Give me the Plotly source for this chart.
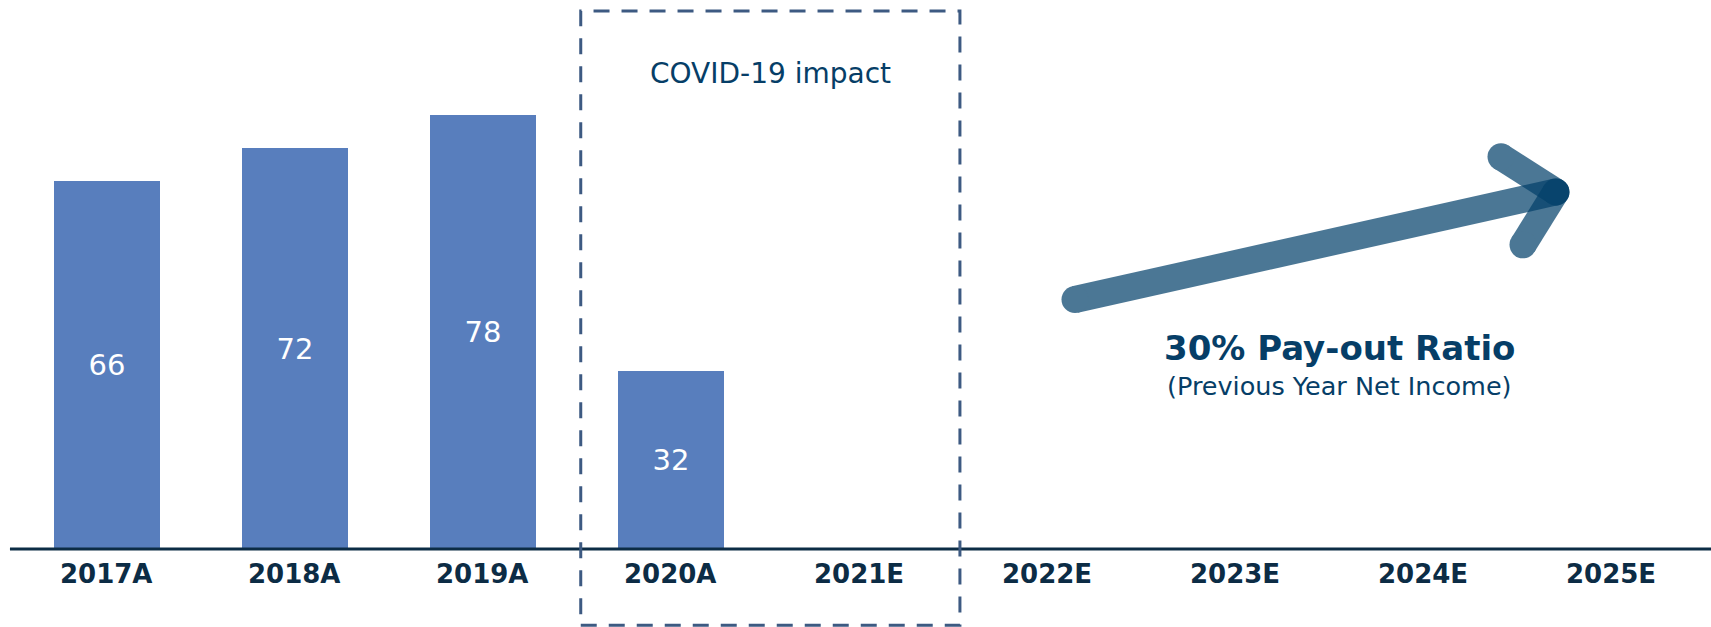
import plotly.graph_objects as go

# Dividend per year (actuals) and forecast years
categories = ["2017A", "2018A", "2019A", "2020A", "2021E", "2022E", "2023E", "2024E", "2025E"]
dividends = [66, 72, 78, 32, None, None, None, None, None]

covid_label = "COVID-19 impact"
policy_title = "30% Pay-out Ratio"
policy_note = "(Previous Year Net Income)"

BAR_BLUE = "#587ebd"
NAVY = "#0c2c45"
TEXT_BLUE = "#063e67"
ARROW_BLUE = "#03406a"
FONT = "DejaVu Sans"

pos = list(range(len(categories)))

fig = go.Figure()

fig.add_trace(go.Bar(
    x=pos,
    y=dividends,
    width=0.56,
    marker=dict(color=BAR_BLUE, line=dict(width=0)),
    text=[str(v) if v is not None else "" for v in dividends],
    textposition="inside",
    insidetextanchor="middle",
    textangle=0,
    constraintext="none",
    textfont=dict(color="white", size=29, family=FONT),
    hoverinfo="skip",
    showlegend=False,
))

# Trend arrow: shaft plus two head strokes, each semi-transparent so overlaps darken
arrow_parts = [
    ([5.149, 7.707], [44.8, 64.1]),
    ([7.415, 7.707], [70.4, 64.1]),
    ([7.532, 7.707], [54.6, 64.1]),
]
for xs, ys in arrow_parts:
    fig.add_trace(go.Scatter(
        x=xs, y=ys,
        mode="lines+markers",
        line=dict(color=ARROW_BLUE, width=27),
        marker=dict(color=ARROW_BLUE, size=27, line=dict(width=0)),
        opacity=0.71,
        hoverinfo="skip",
        showlegend=False,
    ))

# Baseline
fig.add_shape(type="line", x0=-0.516, x1=8.6, y0=0, y1=0,
              line=dict(color=NAVY, width=3), layer="above")

# Dashed frame around the COVID-affected years
fig.add_shape(type="rect", x0=2.52, x1=4.537, y0=-13.7, y1=96.6,
              line=dict(color="#3d5a82", width=3, dash="16px,12px"),
              fillcolor="rgba(0,0,0,0)", layer="above")

# Category labels under the baseline
for p, c in zip(pos, categories):
    fig.add_annotation(x=p, y=-4.4, text=f"<b>{c}</b>", showarrow=False,
                       font=dict(family=FONT, size=26, color=NAVY),
                       xanchor="center", yanchor="middle")

fig.add_annotation(x=3.53, y=85.3, text=covid_label, showarrow=False,
                   font=dict(family=FONT, size=28, color=TEXT_BLUE),
                   xanchor="center", yanchor="middle")
fig.add_annotation(x=6.555, y=36.0, text=f"<b>{policy_title}</b>", showarrow=False,
                   font=dict(family=FONT, size=34, color=TEXT_BLUE),
                   xanchor="center", yanchor="middle")
fig.add_annotation(x=6.555, y=29.3, text=policy_note, showarrow=False,
                   font=dict(family=FONT, size=25.5, color=TEXT_BLUE),
                   xanchor="center", yanchor="middle")

fig.update_layout(
    width=1711, height=627,
    margin=dict(l=0, r=0, t=0, b=0),
    paper_bgcolor="white", plot_bgcolor="white",
    xaxis=dict(range=[-0.569, 8.532], visible=False, fixedrange=True),
    yaxis=dict(range=[-14.0, 98.56], visible=False, fixedrange=True),
    bargap=0,
    showlegend=False,
)

fig.write_html("out.html", config={"displayModeBar": False})
